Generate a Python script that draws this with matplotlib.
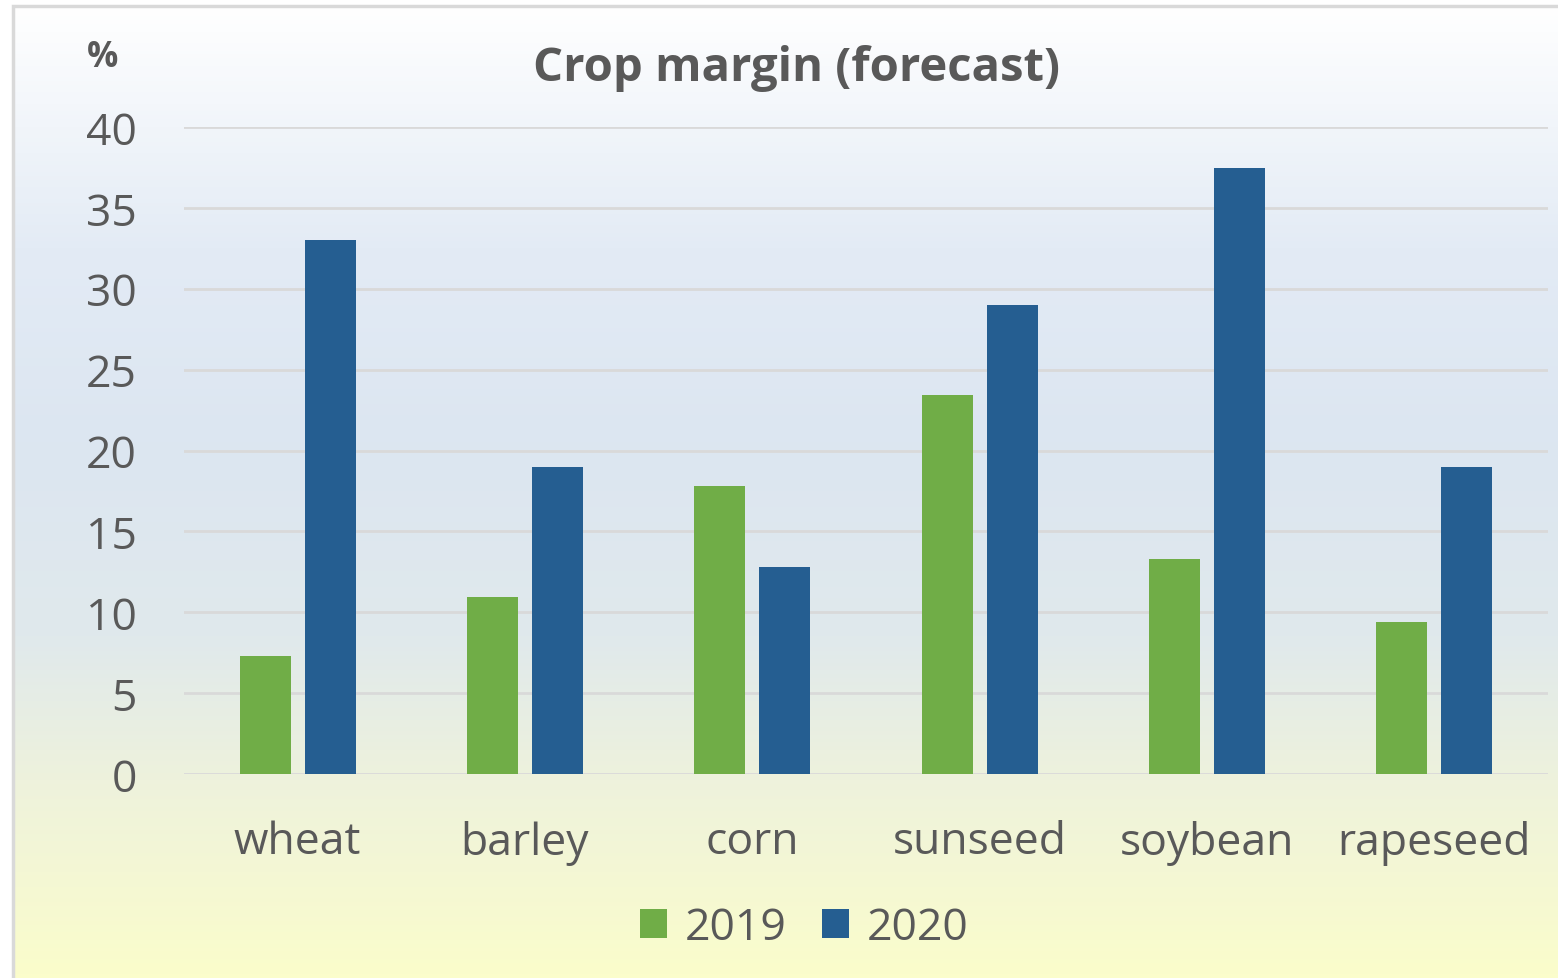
import numpy as np
import matplotlib.pyplot as plt
from matplotlib.colors import LinearSegmentedColormap
from matplotlib.patches import Rectangle

crops = ['wheat', 'barley', 'corn', 'sunseed', 'soybean', 'rapeseed']
margin_2019 = [7.3, 10.95, 17.8, 23.45, 13.3, 9.4]
margin_2020 = [33.0, 19.0, 12.8, 29.0, 37.45, 19.0]
years = ['2019', '2020']
yticks = [0, 5, 10, 15, 20, 25, 30, 35, 40]

green = '#70ad47'
blue = '#255e91'
txt = '#595959'

plt.rcParams['font.family'] = ['Open Sans', 'DejaVu Sans']

W, H = 1558, 979
fig = plt.figure(figsize=(W / 100, H / 100), dpi=100)

# gradient background inside the chart frame
bg = fig.add_axes([12 / W, 0, 1 - 12 / W, 1 - 6 / H], zorder=-10)
cmap = LinearSegmentedColormap.from_list(
    'bg', [(0, '#ffffff'), (0.25, '#e3ebf5'), (0.45, '#dce6f1'),
           (0.65, '#e0e9ec'), (0.8, '#eef2dc'), (1.0, '#fbfdcb')])
bg.imshow(np.linspace(0, 1, 256).reshape(-1, 1), aspect='auto', cmap=cmap,
          extent=[0, 1, 0, 1])
bg.set_axis_off()
fig.patches.append(Rectangle((12.5 / W, -0.1), 1.2, 1 - 6.5 / H + 0.1,
                             transform=fig.transFigure, fill=False,
                             edgecolor='#d9d9d9', linewidth=2.5))

ax = fig.add_axes([184 / W, 1 - 775 / H, 1364 / W, 647 / H])
ax.patch.set_alpha(0)
x = np.arange(len(crops))
w = 0.224
off = 0.1425
ax.bar(x - off, margin_2019, w, color=green, label=years[0], zorder=3)
ax.bar(x + off, margin_2020, w, color=blue, label=years[1], zorder=3)

ax.set_xlim(-0.5, len(crops) - 0.5)
ax.set_ylim(0, 40)
ax.set_yticks(yticks)
ax.set_xticks(x)
ax.set_xticklabels(crops)
ax.tick_params(axis='both', length=0, labelsize=32, colors=txt)
ax.tick_params(axis='y', pad=34)
ax.tick_params(axis='x', pad=33)
ax.grid(axis='y', color='#d9d9d9', linewidth=2, zorder=0)
for s in ax.spines.values():
    s.set_visible(False)

fig.text(796 / W, 1 - 69 / H, 'Crop margin (forecast)', ha='center',
         va='center', fontsize=34, fontweight='bold', color=txt)
fig.text(103 / W, 1 - 58 / H, '%', ha='center', va='center', fontsize=25,
         fontweight='bold', color=txt)

fig.legend(loc='center', bbox_to_anchor=(804 / W, 1 - 929 / H), ncol=2,
           frameon=False, fontsize=32, labelcolor=txt, handlelength=0.6,
           handleheight=0.6, handletextpad=0.4, columnspacing=0.8)

fig.savefig('out.png', dpi=100)
